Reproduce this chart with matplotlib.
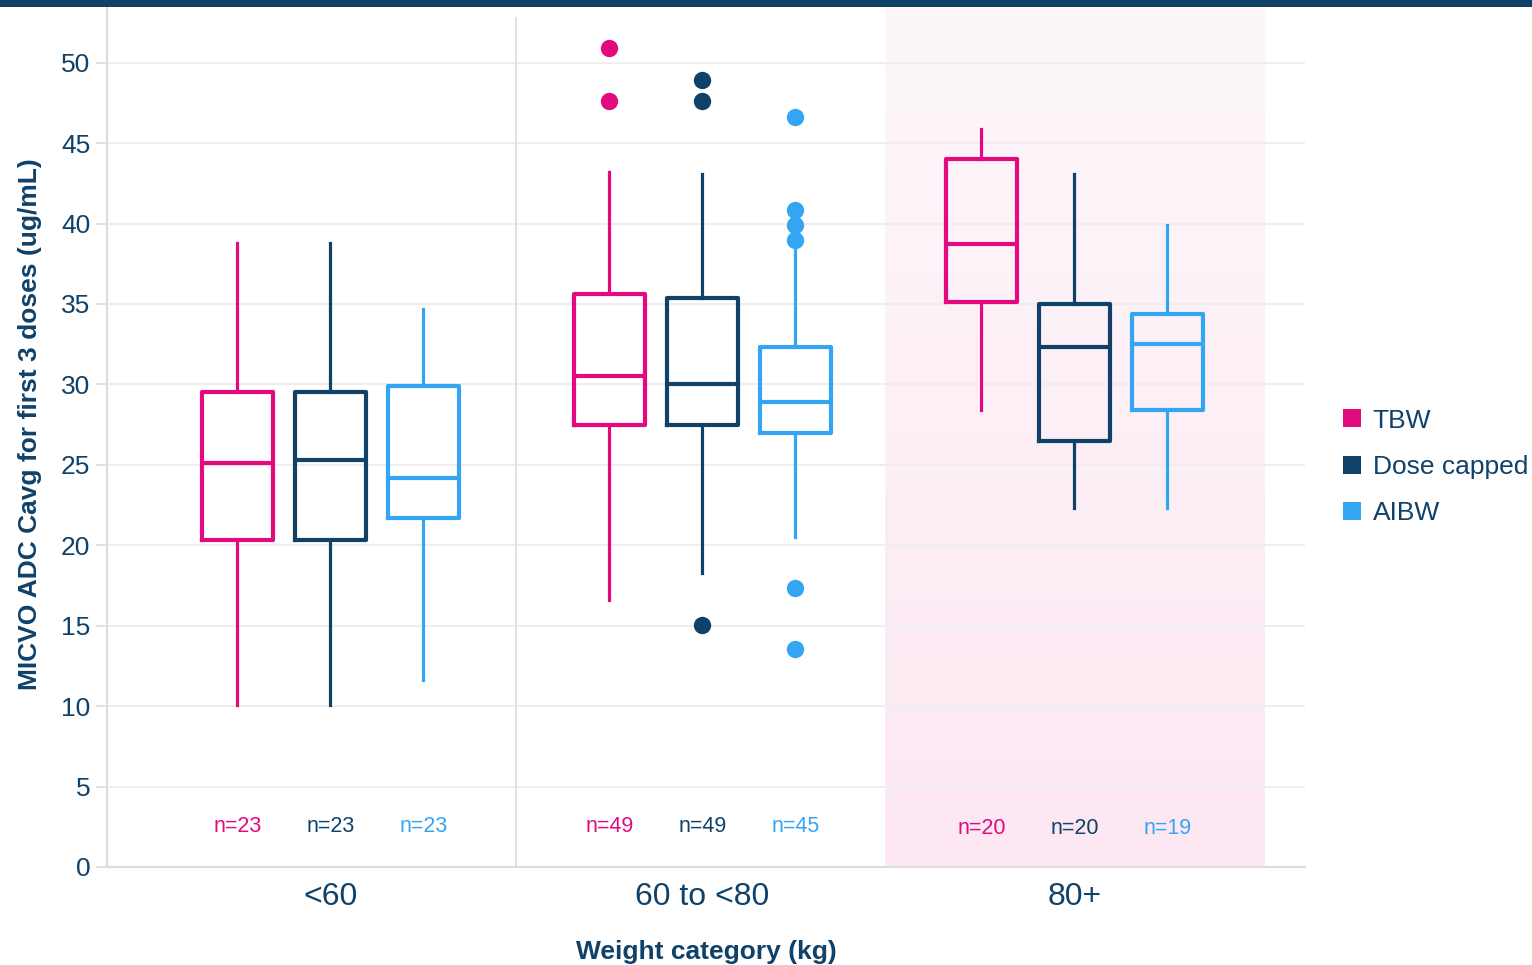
import numpy as np
import matplotlib.pyplot as plt
from matplotlib.patches import Patch, Rectangle
from matplotlib.colors import LinearSegmentedColormap

plt.rcParams['font.family'] = ['Liberation Sans', 'DejaVu Sans']

NAVY = '#0f4169'
GRID = '#eeeeee'
SPINE = '#dcdcdc'

groups = ['<60', '60 to <80', '80+']
series = ['TBW', 'Dose capped', 'AIBW']
colors = ['#e20a7e', '#0f4169', '#33a5f2']

# whislo, q1, median, q3, whishi per group, one list per series
tbw_stats = [[10.1, 20.3, 25.1, 29.5, 38.8],
             [16.6, 27.5, 30.5, 35.6, 43.2],
             [28.4, 35.1, 38.7, 44.0, 45.9]]
dose_stats = [[10.1, 20.3, 25.3, 29.5, 38.8],
              [18.3, 27.5, 30.0, 35.4, 43.1],
              [22.3, 26.5, 32.3, 35.0, 43.1]]
aibw_stats = [[11.6, 21.7, 24.2, 29.9, 34.7],
              [20.5, 27.0, 28.9, 32.3, 38.4],
              [22.3, 28.4, 32.5, 34.4, 39.9]]

tbw_out = [[], [50.9, 47.6], []]
dose_out = [[], [48.9, 47.6, 15.05], []]
aibw_out = [[], [46.6, 40.85, 39.9, 39.0, 17.35, 13.55], []]

tbw_n = [23, 49, 20]
dose_n = [23, 49, 20]
aibw_n = [23, 45, 19]

all_stats = [tbw_stats, dose_stats, aibw_stats]
all_out = [tbw_out, dose_out, aibw_out]
all_n = [tbw_n, dose_n, aibw_n]

fig = plt.figure(figsize=(15.32, 9.65), dpi=100)
ax = fig.add_axes([107 / 1532, 98 / 965, (1305 - 107) / 1532, (957 - 98) / 965])

YTOP = 53.4
XMIN, XMAX = -0.6, 2.62

# shaded band behind the last weight category
shade = LinearSegmentedColormap.from_list('shade', ['#fce7f2', '#fdf7fa'])
ax.imshow(np.linspace(0, 1, 256).reshape(-1, 1), cmap=shade, origin='lower',
          extent=[1.49, 2.51, 0, YTOP], aspect='auto', zorder=0)

offsets = [-0.25, 0.0, 0.25]
for stats, outs, ns, col, off in zip(all_stats, all_out, all_n, colors, offsets):
    bstats = []
    for g in range(3):
        lo, q1, med, q3, hi = stats[g]
        bstats.append(dict(whislo=lo, q1=q1, med=med, q3=q3, whishi=hi,
                           fliers=outs[g], label=''))
    pos = [g + off for g in range(3)]
    ax.bxp(bstats, positions=pos, widths=0.19, showcaps=False, patch_artist=False,
           boxprops=dict(color=col, linewidth=3.0, solid_joinstyle='round'),
           whiskerprops=dict(color=col, linewidth=2.3),
           medianprops=dict(color=col, linewidth=3.0),
           flierprops=dict(marker='o', markersize=12.5, markerfacecolor=col,
                           markeredgecolor='none'),
           zorder=3)
    for g in range(3):
        yy = 2.4 if g == 2 else 2.5
        ax.text(g + off, yy, f'n={ns[g]}', color=col, fontsize=15.5,
                ha='center', va='center', zorder=4)

ax.set_xlim(XMIN, XMAX)
ax.set_ylim(0, YTOP)

ax.set_yticks(range(0, 51, 5))
ax.yaxis.grid(True, color=GRID, linewidth=1.5, zorder=1)
ax.set_axisbelow(True)
ax.axvline(0.5, ymax=52.8 / YTOP, color=SPINE, linewidth=1.2, zorder=1)

ax.set_xticks(range(3))
ax.set_xticklabels(groups)
ax.tick_params(axis='x', length=0, pad=11, labelsize=23, labelcolor=NAVY)
ax.tick_params(axis='y', length=8, width=1.2, color=SPINE, pad=4,
               labelsize=19, labelcolor=NAVY)

for side in ['top', 'right']:
    ax.spines[side].set_visible(False)
for side in ['left', 'bottom']:
    ax.spines[side].set_color(SPINE)
    ax.spines[side].set_linewidth(1.5)

ax.set_ylabel('MICVO ADC Cavg for first 3 doses (ug/mL)', fontsize=19,
              fontweight='bold', color=NAVY)
ax.yaxis.set_label_coords(-0.054, 0.516)
ax.set_xlabel('Weight category (kg)', fontsize=19, fontweight='bold',
              color=NAVY, labelpad=20)

handles = [Patch(facecolor=c, edgecolor='none', label=l) for c, l in zip(colors, series)]
leg = fig.legend(handles=handles, loc='center left', bbox_to_anchor=(1343 / 1532, 1 - 467 / 965),
                 frameon=False, fontsize=19, handlelength=0.68, handleheight=0.68,
                 handletextpad=0.45, labelspacing=0.85, borderpad=0, borderaxespad=0)
for t in leg.get_texts():
    t.set_color(NAVY)

# top banner strip
fig.patches.append(Rectangle((0, 1 - 7 / 965), 1, 7 / 965, transform=fig.transFigure,
                             facecolor=NAVY, edgecolor='none'))

fig.savefig('out.png', dpi=100)
